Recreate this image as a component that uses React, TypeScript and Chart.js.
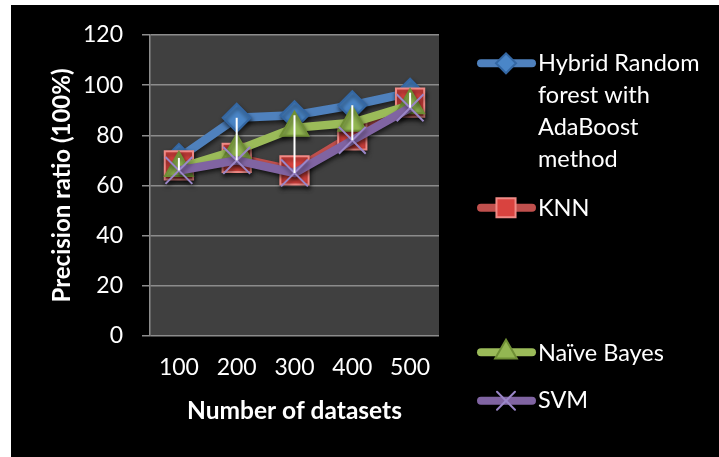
import React, { useEffect, useRef } from "react";
import { Chart, registerables } from "chart.js";

Chart.register(...registerables);

const categories = ["100", "200", "300", "400", "500"];
const hybridValues = [71, 87, 88, 92, 97];
const knnValues = [68, 71, 66, 80, 93];
const naiveBayesValues = [67, 74, 83, 85, 92];
const svmValues = [66, 70, 65, 78, 91];
const seriesLabels = [
  ["Hybrid Random", "forest with", "AdaBoost", "method"],
  ["KNN"],
  ["Naïve Bayes"],
  ["SVM"],
];
const yMin = 0;
const yMax = 120;
const yStep = 20;
const xTitle = "Number of datasets";
const yTitle = "Precision ratio (100%)";

const FONT = "Lato, 'Open Sans', sans-serif";
const GRID = "#8c8c8c";

const lineColors = ["#4f81bd", "#c0504d", "#9bbb59", "#8064a2"];
const markerFill = ["#4a86c8", "#d9433f", "#93b752", "#8064a2"];
const markerBorder = ["#3467a3", "#f08a86", "#6f8f35", "#9a86c8"];
const markerStyle = ["rectRot", "rect", "triangle", "crossRot"];
const markerRadius = [14, 20, 16, 19];

function drawMarker(ctx: CanvasRenderingContext2D, style: string, x: number, y: number, r: number, fill: string, stroke: string) {
  ctx.save();
  ctx.beginPath();
  if (style === "rectRot") {
    ctx.moveTo(x - r, y);
    ctx.lineTo(x, y - r);
    ctx.lineTo(x + r, y);
    ctx.lineTo(x, y + r);
    ctx.closePath();
  } else if (style === "rect") {
    const s = r * Math.SQRT1_2;
    ctx.rect(x - s, y - s, 2 * s, 2 * s);
  } else if (style === "triangle") {
    for (let k = 0; k < 3; k++) {
      const a = (k * 2 * Math.PI) / 3;
      const px = x + Math.sin(a) * r;
      const py = y - Math.cos(a) * r;
      if (k === 0) ctx.moveTo(px, py);
      else ctx.lineTo(px, py);
    }
    ctx.closePath();
  } else {
    const o = r * Math.SQRT1_2;
    ctx.moveTo(x - o, y - o);
    ctx.lineTo(x + o, y + o);
    ctx.moveTo(x + o, y - o);
    ctx.lineTo(x - o, y + o);
    ctx.strokeStyle = stroke;
    ctx.lineWidth = 2;
    ctx.stroke();
    ctx.restore();
    return;
  }
  ctx.fillStyle = fill;
  ctx.fill();
  ctx.strokeStyle = stroke;
  ctx.lineWidth = 2;
  ctx.stroke();
  ctx.restore();
}

const plotBgPlugin = {
  id: "plotBg",
  beforeDraw(chart: any) {
    const { ctx, chartArea } = chart;
    ctx.save();
    ctx.fillStyle = "#404040";
    ctx.fillRect(chartArea.left, chartArea.top, chartArea.right - chartArea.left, chartArea.bottom - chartArea.top);
    ctx.restore();
  },
};

const shadowPlugin = {
  id: "shadow",
  beforeDatasetDraw(chart: any) {
    const ctx = chart.ctx;
    ctx.save();
    ctx.shadowColor = "rgba(0,0,0,0.55)";
    ctx.shadowBlur = 4;
    ctx.shadowOffsetX = 1;
    ctx.shadowOffsetY = 3;
  },
  afterDatasetDraw(chart: any) {
    chart.ctx.restore();
  },
};

const highLowPlugin = {
  id: "highLow",
  afterDatasetsDraw(chart: any) {
    const { ctx, scales } = chart;
    const ds = chart.data.datasets;
    ctx.save();
    ctx.strokeStyle = "#ffffff";
    ctx.lineWidth = 2;
    for (let i = 0; i < categories.length; i++) {
      const vals = ds.map((d: any) => d.data[i] as number);
      const hi = Math.max(...vals);
      const lo = Math.min(...vals);
      const x = scales.x.getPixelForValue(i);
      ctx.beginPath();
      ctx.moveTo(x, scales.y.getPixelForValue(hi));
      ctx.lineTo(x, scales.y.getPixelForValue(lo));
      ctx.stroke();
    }
    ctx.restore();
  },
};

const legendLayout = [
  { lineY: 58.3, baselines: [65.7, 97.9, 130.1, 162.3] },
  { lineY: 202.7, baselines: [210.7] },
  { lineY: 347.3, baselines: [355.7] },
  { lineY: 395.7, baselines: [403.3] },
];
const legendMarkerRadius = [10, 13.5, 12.5, 12.7];

const legendPlugin = {
  id: "customLegend",
  afterDraw(chart: any) {
    const ctx = chart.ctx as CanvasRenderingContext2D;
    const x0 = 466;
    const x1 = 525;
    const mx = 495;
    const tx = 527;
    ctx.save();
    chart.data.datasets.forEach((d: any, i: number) => {
      const lay = legendLayout[i];
      ctx.beginPath();
      ctx.lineCap = "round";
      ctx.lineWidth = 8;
      ctx.strokeStyle = lineColors[i];
      ctx.moveTo(x0 + 4, lay.lineY);
      ctx.lineTo(x1 - 4, lay.lineY);
      ctx.stroke();
      drawMarker(ctx, markerStyle[i], mx, lay.lineY, legendMarkerRadius[i], markerFill[i], markerBorder[i]);
      ctx.fillStyle = "#ffffff";
      ctx.font = `23.5px ${FONT}`;
      ctx.textAlign = "left";
      ctx.textBaseline = "alphabetic";
      seriesLabels[i].forEach((t, k) => ctx.fillText(t, tx, lay.baselines[k]));
    });
    ctx.restore();
  },
};

export default function App() {
  const canvasRef = useRef<HTMLCanvasElement | null>(null);

  useEffect(() => {
    if (!canvasRef.current) return;
    const allSeries = [hybridValues, knnValues, naiveBayesValues, svmValues];
    const chart = new Chart(canvasRef.current, {
      type: "line",
      data: {
        labels: categories,
        datasets: allSeries.map((vals, i) => ({
          label: seriesLabels[i].join(" "),
          data: vals,
          borderColor: lineColors[i],
          backgroundColor: lineColors[i],
          borderWidth: 8.5,
          pointStyle: markerStyle[i] as any,
          pointRadius: markerRadius[i],
          pointBackgroundColor: markerFill[i],
          pointBorderColor: markerBorder[i],
          pointBorderWidth: 2,
          tension: 0,
          fill: false,
          order: 3 - i,
        })),
      },
      options: {
        responsive: false,
        animation: false,
        devicePixelRatio: 1,
        layout: { padding: { left: 0, top: 30, right: 280, bottom: 0 } },
        plugins: {
          legend: { display: false },
          tooltip: { enabled: false },
        },
        scales: {
          x: {
            type: "category",
            offset: true,
            grid: { display: false, drawTicks: false },
            border: { display: false },
            ticks: { color: "#ffffff", font: { family: FONT, size: 23 }, padding: 18, maxRotation: 0 },
            title: {
              display: true,
              text: xTitle,
              color: "#ffffff",
              font: { family: FONT, size: 24.5, weight: "bold" },
              padding: { top: 0, bottom: 31 },
            },
            afterFit(scale: any) {
              scale.height = 121;
              scale.paddingLeft = 0;
              scale.paddingRight = 0;
            },
          },
          y: {
            min: yMin,
            max: yMax,
            ticks: { stepSize: yStep, color: "#ffffff", font: { family: FONT, size: 23 }, padding: 19 },
            grid: { color: GRID, lineWidth: 1.5, drawTicks: true, tickLength: 8 },
            border: { display: true, color: GRID, width: 1.5 },
            title: {
              display: true,
              text: yTitle,
              color: "#ffffff",
              font: { family: FONT, size: 24, weight: "bold" },
              padding: { top: 37, bottom: 0 },
            },
            afterFit(scale: any) {
              scale.width = 139;
              scale.paddingTop = 0;
              scale.paddingBottom = 0;
            },
          },
        },
      } as any,
      plugins: [plotBgPlugin, shadowPlugin, highLowPlugin, legendPlugin],
    });
    return () => chart.destroy();
  }, []);

  return (
    <div style={{ position: "fixed", left: 0, top: 0, width: 719, height: 457, background: "#ffffff", overflow: "hidden" }}>
      <div style={{ position: "absolute", left: 11, top: 5, width: 708, height: 452, background: "#000000" }}>
        <canvas ref={canvasRef} width={708} height={452} style={{ display: "block", width: 708, height: 452 }} />
      </div>
    </div>
  );
}
